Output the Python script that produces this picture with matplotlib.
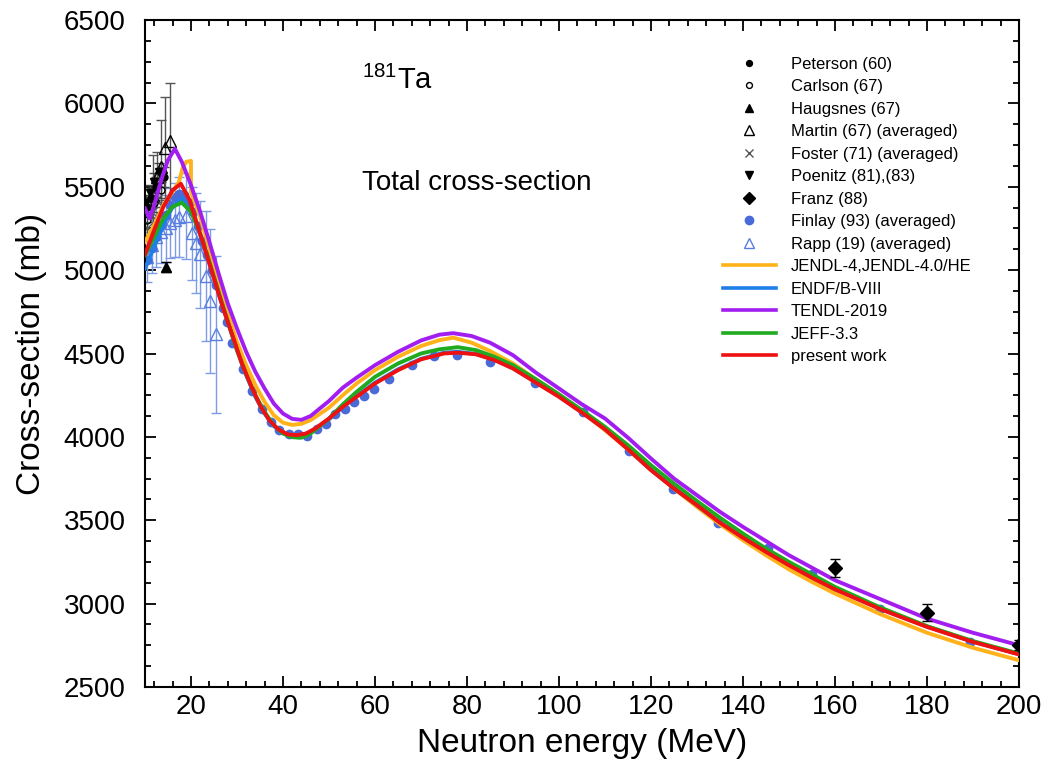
import numpy as np
import matplotlib
matplotlib.use("Agg")
import matplotlib.pyplot as plt
import matplotlib.lines as mlines
from matplotlib.ticker import MultipleLocator

plt.rcParams['font.family'] = ['Liberation Sans', 'DejaVu Sans']
plt.rcParams['mathtext.fontset'] = 'custom'
plt.rcParams['mathtext.rm'] = 'Liberation Sans'

# ---------------- evaluated / model curves ----------------
e_jendl = [10, 12, 14, 16, 17.4, 18.2, 19.0, 20, 20, 22, 24, 26, 28, 30, 32, 34, 36, 38, 40, 42, 44, 46, 50, 53,
           56, 60, 65, 70, 74, 77, 81, 85, 90, 95, 100, 105, 110, 115, 120, 125, 130, 135, 140, 145, 150, 155,
           160, 170, 180, 190, 200]
xs_jendl = [5170, 5270, 5390, 5470, 5530, 5615, 5650, 5655, 5470, 5320, 5130, 4930, 4740, 4570, 4430, 4310,
            4210, 4130, 4085, 4072, 4078, 4100, 4175, 4250, 4320, 4400, 4480, 4545, 4580, 4595, 4565, 4515,
            4440, 4345, 4255, 4150, 4040, 3925, 3805, 3690, 3580, 3475, 3380, 3290, 3205, 3130, 3060, 2935,
            2825, 2735, 2660]

e_endf = [10, 12, 14, 16, 18, 20, 22, 24, 26, 28, 30, 32, 34, 36, 38, 40, 42, 44, 46, 50, 53, 56, 60, 65, 70, 75,
          78, 82, 86, 90, 95, 100, 105, 110, 115, 120, 125, 130, 135, 140, 145, 150, 155, 160, 170, 180, 190, 200]
xs_endf = [5010, 5140, 5270, 5380, 5430, 5370, 5210, 5040, 4860, 4690, 4520, 4370, 4240, 4140, 4065, 4022, 4008,
           4010, 4030, 4105, 4180, 4245, 4325, 4405, 4468, 4505, 4510, 4497, 4462, 4412, 4328, 4243, 4148, 4048,
           3928, 3803, 3692, 3590, 3487, 3397, 3312, 3232, 3157, 3087, 2967, 2862, 2772, 2697]

e_tendl = [10, 11, 12, 13, 14, 15, 16.5, 18, 20, 22, 24, 26, 28, 30, 32, 34, 36, 38, 40, 42, 44, 46, 50, 53, 56,
           60, 65, 70, 74, 77, 81, 85, 90, 95, 100, 105, 110, 115, 120, 125, 130, 135, 140, 145, 150, 155, 160,
           170, 180, 190, 200]
xs_tendl = [5370, 5310, 5390, 5490, 5580, 5660, 5728, 5650, 5510, 5350, 5170, 4980, 4800, 4650, 4510, 4390, 4290,
            4200, 4140, 4108, 4102, 4125, 4215, 4295, 4355, 4430, 4510, 4578, 4613, 4622, 4605, 4565, 4490, 4385,
            4290, 4195, 4110, 3995, 3870, 3750, 3650, 3550, 3460, 3375, 3290, 3215, 3140, 3025, 2910, 2825, 2750]

e_jeff = [10, 12, 14, 16, 18, 20, 22, 24, 26, 28, 30, 32, 34, 36, 38, 40, 42, 44, 46, 50, 53, 56, 60, 65, 70, 74,
          78, 82, 86, 90, 95, 100, 105, 110, 115, 120, 125, 130, 135, 140, 145, 150, 155, 160, 170, 180, 190, 200]
xs_jeff = [5090, 5200, 5310, 5380, 5405, 5350, 5220, 5050, 4870, 4690, 4520, 4375, 4250, 4150, 4070, 4020, 3998,
           3995, 4020, 4110, 4195, 4270, 4360, 4440, 4500, 4525, 4538, 4520, 4480, 4430, 4345, 4255, 4160, 4060,
           3950, 3830, 3720, 3615, 3515, 3420, 3330, 3250, 3175, 3100, 2975, 2865, 2775, 2700]

e_present = [10, 12, 14, 16, 17.8, 19.7, 21, 23, 25, 27, 29, 31, 33, 35, 37, 39, 41, 43, 45, 47, 50, 53, 56, 60,
             65, 70, 75, 78, 82, 86, 90, 95, 100, 105, 110, 115, 120, 125, 130, 135, 140, 145, 150, 155, 160, 170,
             180, 190, 200]
xs_present = [5095, 5240, 5380, 5480, 5518, 5420, 5305, 5130, 4950, 4770, 4610, 4445, 4310, 4190, 4100, 4045,
              4015, 4010, 4020, 4050, 4110, 4180, 4240, 4320, 4400, 4465, 4500, 4505, 4495, 4460, 4410, 4325, 4240,
              4145, 4045, 3925, 3800, 3690, 3590, 3485, 3395, 3310, 3230, 3155, 3085, 2965, 2860, 2770, 2695]

# ---------------- experimental data ----------------
e_peterson = [10.4, 11.3, 12.5, 14.1]
xs_peterson = [5380, 5430, 5500, 5560]
err_peterson = [60, 60, 60, 60]

e_carlson = [10.5, 12.0, 13.5]
xs_carlson = [5300, 5400, 5480]
err_carlson = [50, 50, 50]

e_haugsnes = [14.5]
xs_haugsnes = [5020]
err_haugsnes = [30]

e_martin = [11.7, 12.6, 13.5, 14.3, 15.4]
xs_martin = [5450, 5560, 5620, 5730, 5775]
err_martin = [240, 150, 280, 310, 345]

e_foster = [10.5, 11.5, 12.5]
xs_foster = [5250, 5350, 5420]
err_foster = [40, 40, 40]

e_poenitz = [10.2, 11.0, 12.0, 13.0]
xs_poenitz = [5400, 5460, 5530, 5590]
err_poenitz = [50, 50, 50, 50]

e_franz = [160, 180, 200]
xs_franz = [3215, 2946, 2753]
err_franz = [55, 50, 30]

e_finlay = [10.5, 11.5, 12.5, 13.5, 14.5, 15.5, 16.5, 17.5, 18.5, 19.5, 20.5, 21.5, 22.5, 23.5, 24.5, 25.5,
            26.9, 27.8, 29.0, 31.2, 33.2, 35.4, 37.3, 39.2, 41.4, 43.2, 45.3, 47.5, 49.3, 51.4, 53.5, 55.5,
            57.6, 59.8, 63.1, 68.0, 72.8, 77.8, 84.9, 94.7, 105.3, 115.3, 124.8, 134.5, 145.4, 155.1, 169.8, 189.3]
xs_finlay = [5060, 5130, 5200, 5270, 5330, 5390, 5440, 5458, 5450, 5405, 5350, 5265, 5175, 5090, 5000, 4910,
             4771, 4690, 4560, 4410, 4275, 4165, 4090, 4042, 4018, 4015, 4003, 4050, 4080, 4135, 4170, 4210,
             4247, 4290, 4350, 4434, 4485, 4494, 4452, 4325, 4151, 3916, 3687, 3482, 3331, 3175, 2970, 2771]

e_rapp = [10.5, 11.5, 12.5, 13.5, 14.5, 15.5, 16.5, 17.5, 18.9, 20.3, 21.1, 22.0, 23.2, 24.1, 25.4]
xs_rapp = [5080, 5150, 5200, 5230, 5250, 5280, 5300, 5320, 5325, 5220, 5160, 5095, 4965, 4815, 4615]
err_rapp = [150, 170, 180, 190, 200, 210, 220, 240, 260, 280, 300, 320, 390, 430, 470]

# ---------------- figure ----------------
fig = plt.figure(figsize=(10.43, 7.71), dpi=100)
ax = fig.add_axes([0.139, 0.109, 0.838, 0.865])

c_orange = '#FFB21A'
c_blue = '#1F7FE8'
c_purple = '#A21EF0'
c_green = '#1FAA1F'
c_red = '#EE1111'
c_finlay = '#4A6AD8'
c_rapp = '#5A7EE0'

ebkw = dict(elinewidth=1.0, capsize=3.5, capthick=1.0)

ax.errorbar(e_rapp, xs_rapp, yerr=err_rapp, fmt='^', mfc='none', mec=c_rapp, ms=8, mew=1.0,
            ecolor='#7E9CE6', label='Rapp (19) (averaged)', zorder=2, **ebkw)
ax.errorbar(e_martin, xs_martin, yerr=err_martin, fmt='^', mfc='none', mec='black', ms=8, mew=1.0,
            ecolor='#555555', label='Martin (67) (averaged)', zorder=2, **ebkw)
ax.errorbar(e_foster, xs_foster, yerr=err_foster, fmt='x', color='#555555', ms=7, mew=1.0,
            ecolor='#555555', label='Foster (71) (averaged)', zorder=2, **ebkw)
ax.errorbar(e_peterson, xs_peterson, yerr=err_peterson, fmt='o', color='black', ms=5,
            ecolor='#444444', label='Peterson (60)', zorder=2, **ebkw)
ax.errorbar(e_carlson, xs_carlson, yerr=err_carlson, fmt='o', mfc='none', mec='black', ms=5, mew=1.0,
            ecolor='#444444', label='Carlson (67)', zorder=2, **ebkw)
ax.errorbar(e_poenitz, xs_poenitz, yerr=err_poenitz, fmt='v', color='black', ms=6,
            ecolor='#444444', label='Poenitz (81),(83)', zorder=2, **ebkw)
ax.errorbar(e_haugsnes, xs_haugsnes, yerr=err_haugsnes, fmt='^', color='black', ms=7,
            ecolor='black', label='Haugsnes (67)', zorder=2, **ebkw)
ax.errorbar(e_franz, xs_franz, yerr=err_franz, fmt='D', color='black', ms=7,
            ecolor='black', label='Franz (88)', zorder=6, **ebkw)
ax.plot(e_finlay, xs_finlay, 'o', color=c_finlay, ms=6, ls='none', label='Finlay (93) (averaged)', zorder=2.5)

lw = 2.8
ax.plot(e_jendl, xs_jendl, color=c_orange, lw=lw, label='JENDL-4,JENDL-4.0/HE', zorder=3)
ax.plot(e_endf, xs_endf, color=c_blue, lw=lw, label='ENDF/B-VIII', zorder=3.1)
ax.plot(e_tendl, xs_tendl, color=c_purple, lw=lw, label='TENDL-2019', zorder=3.3)
ax.plot(e_jeff, xs_jeff, color=c_green, lw=lw, label='JEFF-3.3', zorder=3.2)
ax.plot(e_present, xs_present, color=c_red, lw=lw, label='present work', zorder=3.5)

ax.set_xlim(10, 200)
ax.set_ylim(2500, 6500)
ax.xaxis.set_major_locator(MultipleLocator(20))
ax.xaxis.set_minor_locator(MultipleLocator(4))
ax.yaxis.set_major_locator(MultipleLocator(500))
ax.yaxis.set_minor_locator(MultipleLocator(125))
ax.tick_params(which='both', direction='in', top=True, right=True, width=1.3, labelsize=20)
ax.tick_params(axis='y', which='major', pad=14)
ax.tick_params(axis='x', which='major', pad=5)
ax.tick_params(which='major', length=8)
ax.tick_params(which='minor', length=4.5)
for s in ax.spines.values():
    s.set_linewidth(1.5)

ax.set_xlabel('Neutron energy (MeV)', fontsize=24, labelpad=6)
ax.set_ylabel('Cross-section (mb)', fontsize=24, labelpad=12)

ax.text(57.2, 6140, r'$\mathregular{^{181}}$Ta', fontsize=21, va='center', ha='left')
ax.text(57.2, 5520, 'Total cross-section', fontsize=20, va='center', ha='left')

# legend
handles, labels = ax.get_legend_handles_labels()
order = ['Peterson (60)', 'Carlson (67)', 'Haugsnes (67)', 'Martin (67) (averaged)', 'Foster (71) (averaged)',
         'Poenitz (81),(83)', 'Franz (88)', 'Finlay (93) (averaged)', 'Rapp (19) (averaged)',
         'JENDL-4,JENDL-4.0/HE', 'ENDF/B-VIII', 'TENDL-2019', 'JEFF-3.3', 'present work']
hmap = dict(zip(labels, handles))
leg_handles = []
for lab in order:
    h = hmap[lab]
    if hasattr(h, 'lines'):
        ln = h.lines[0]
        nh = mlines.Line2D([], [], ls='none', marker=ln.get_marker(), ms=ln.get_markersize() * 0.85,
                           mfc=ln.get_markerfacecolor(), mec=ln.get_markeredgecolor(), mew=1.0)
    elif h.get_linestyle() in ('None', 'none', ''):
        nh = mlines.Line2D([], [], ls='none', marker='o', ms=6, color=c_finlay)
    else:
        nh = mlines.Line2D([], [], color=h.get_color(), lw=2.6)
    leg_handles.append(nh)
ax.legend(leg_handles, order, loc='upper left', bbox_to_anchor=(0.661, 0.945), frameon=False,
          fontsize=12, handlelength=3.2, handletextpad=0.9, labelspacing=0.45, borderpad=0,
          borderaxespad=0)

fig.savefig('out.png', dpi=100)
